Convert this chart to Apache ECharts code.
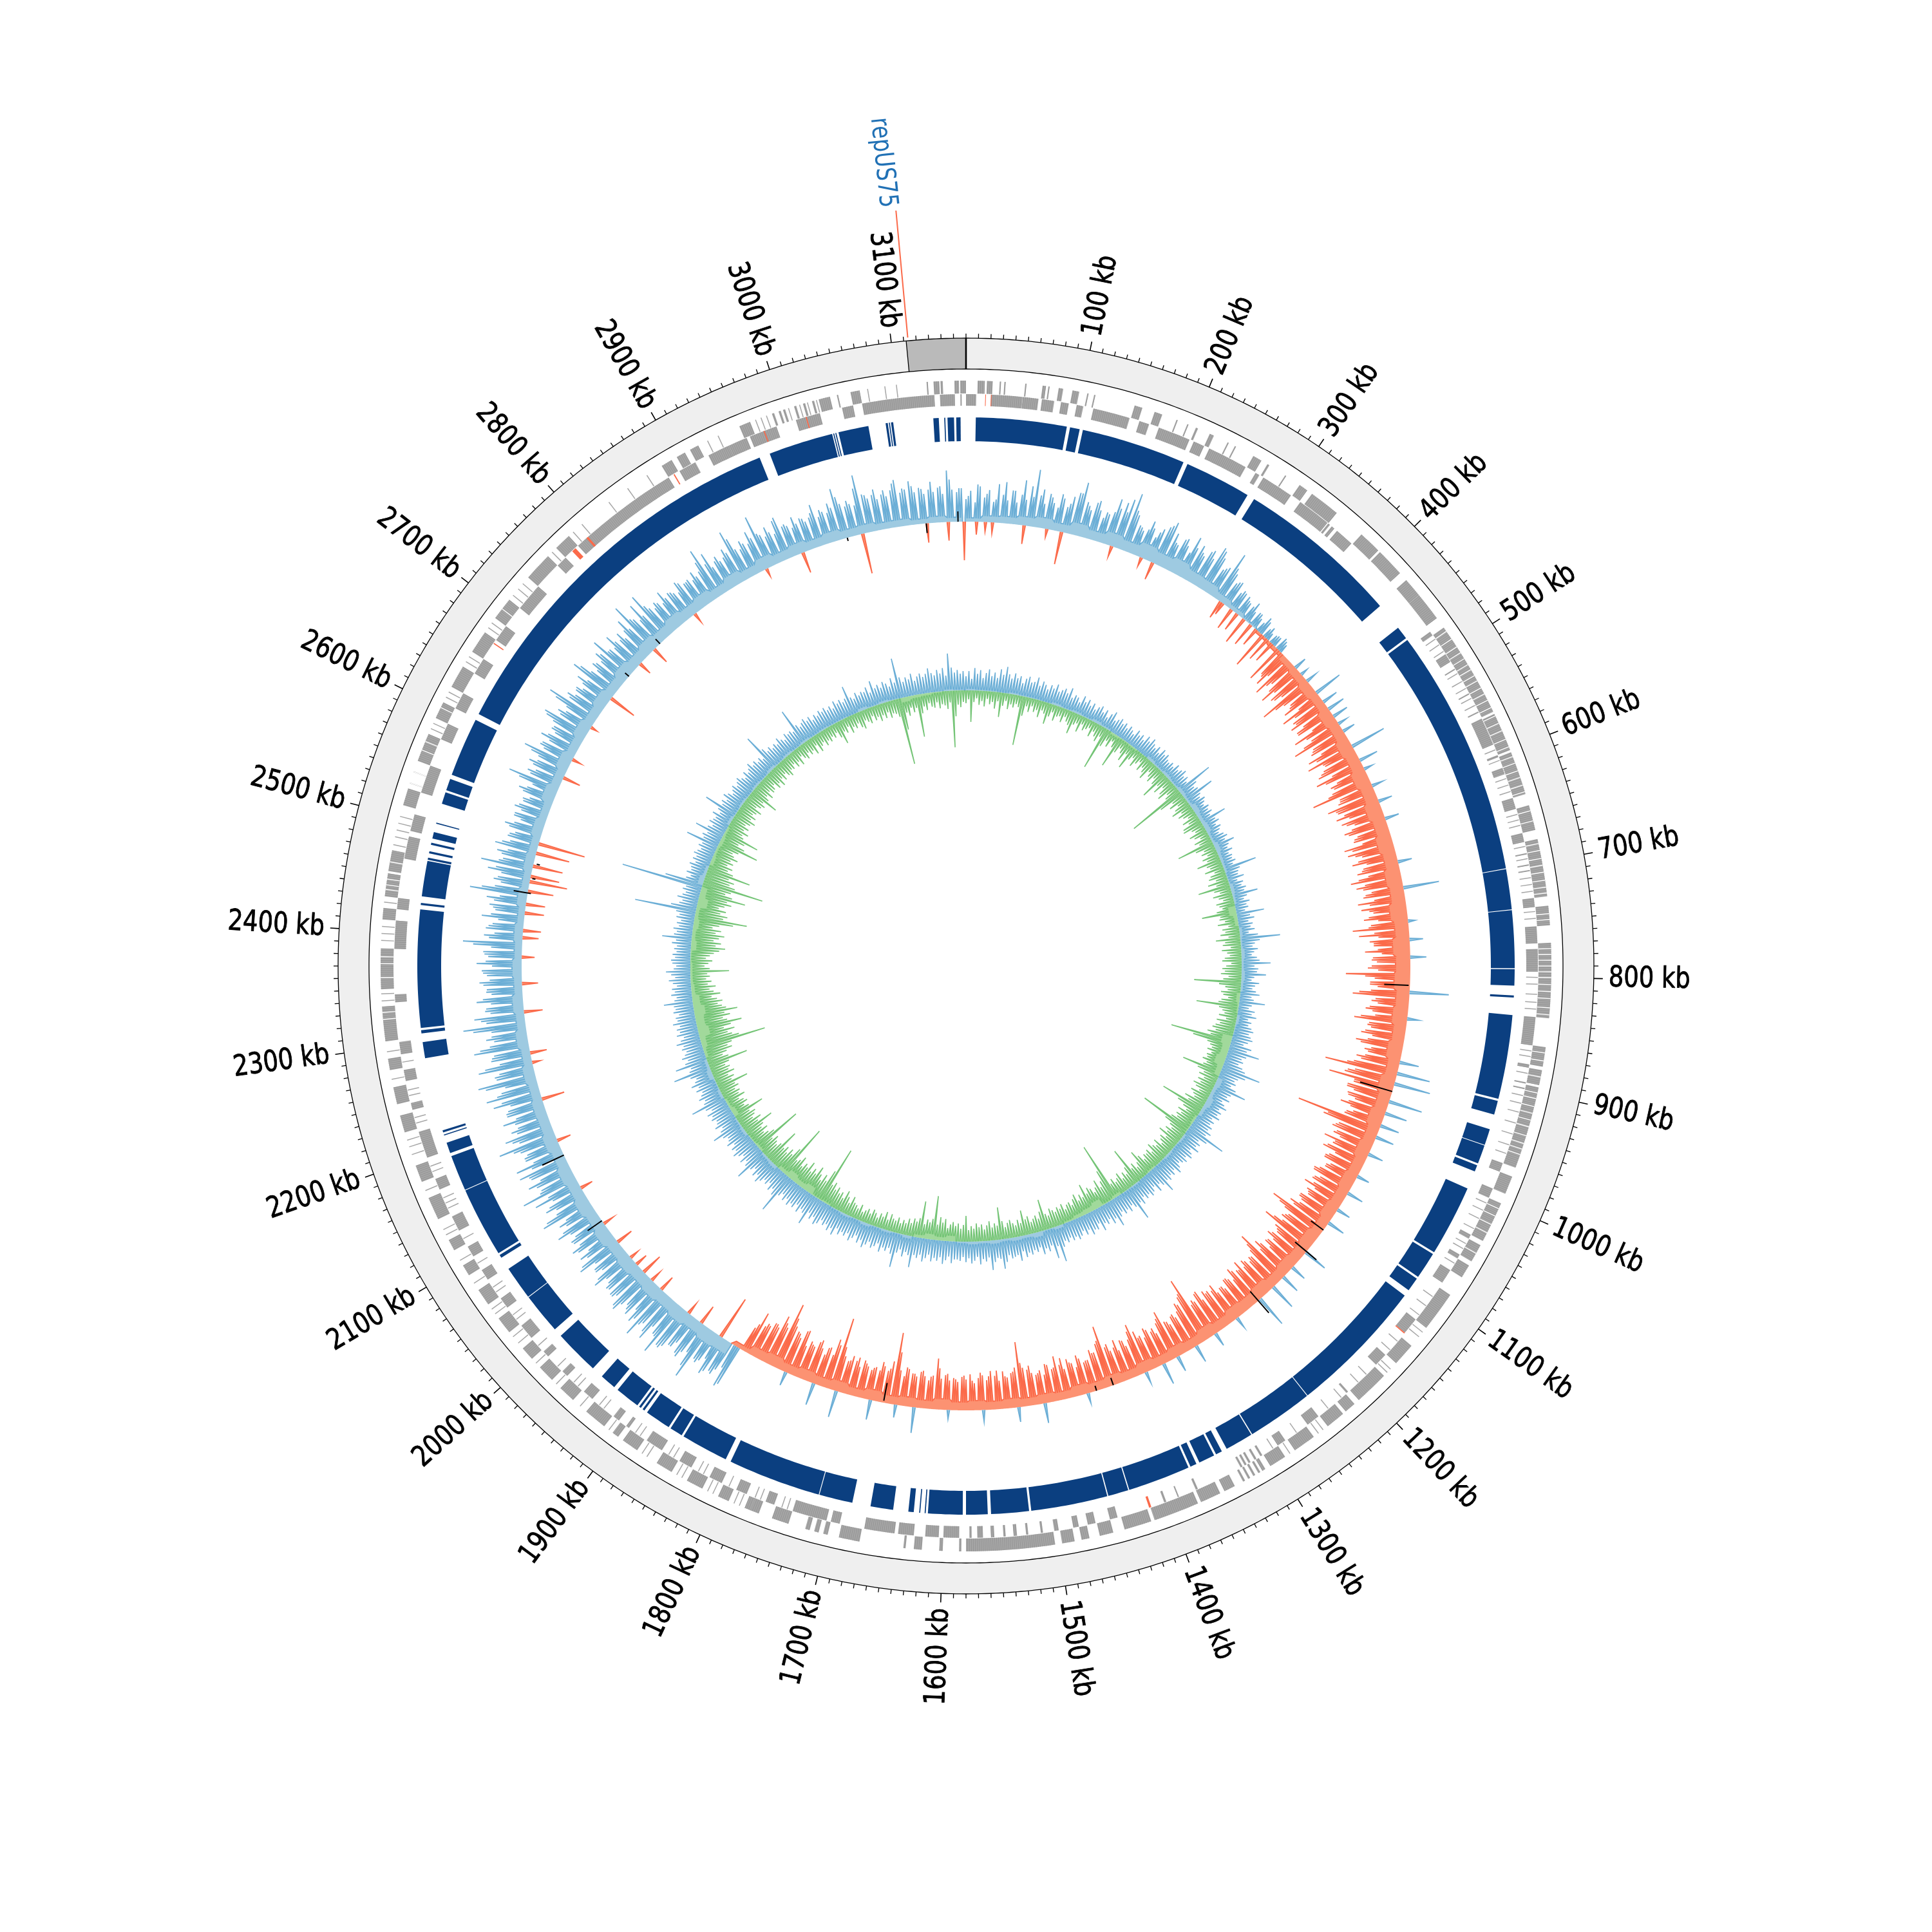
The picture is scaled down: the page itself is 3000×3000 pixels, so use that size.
<!DOCTYPE html>
<html><head><meta charset="utf-8">
<style>html,body{margin:0;padding:0;background:#fff}#c{width:3000px;height:3000px}</style>
<script src="https://cdn.jsdelivr.net/npm/echarts@6/dist/echarts.min.js"></script>
</head><body><div id="c"></div>
<script>
const genomeKb=3160;
const majorTicks=[100,200,300,400,500,600,700,800,900,1000,1100,1200,1300,1400,1500,1600,1700,1800,1900,2000,2100,2200,2300,2400,2500,2600,2700,2800,2900,3000,3100];
const greyBlock=[3112,3160];
const repeatLabel={name:'repUS75',kb:3113.5,textKb:3108};
const contigs=[[9,93],[96,105],[108,205],[209,271],[278,430],[456,468],[470,700],[700.7,738],[738.7,792],[793,808],[817,819],[835,913],[915,928],[942,957],[957.7,975],[977,983],[1000,1066],[1068,1093],[1095,1108],[1114,1242],[1242.7,1304],[1305,1331],[1336,1342],[1344,1359],[1362,1368],[1370,1428],[1429,1448],[1449,1520],[1522,1557],[1560,1580],[1583,1615],[1617,1618],[1622,1623],[1628,1633],[1647,1668],[1685,1716],[1716.7,1803],[1808,1852],[1854,1866],[1868,1892],[1895,1897],[1899,1901],[1903,1926],[1930,1945],[1956,1998],[2006,2044],[2044.7,2076],[2088,2091],[2093,2158],[2158.7,2192],[2195,2205],[2212,2213],[2215,2217],[2285,2300],[2308,2311],[2313,2422],[2426,2428],[2434,2467],[2468,2470],[2474,2476],[2482,2484],[2488,2494],[2502,2503],[2521,2532],[2534,2545],[2549,2604],[2610,2966],[2976,3036],[3037,3038],[3039,3040],[3042,3070],[3086,3088],[3089,3090],[3091,3093],[3130,3135],[3140,3141],[3143,3149],[3151,3155]];
const genesOuter=[[10,16],[18,23],[29,30],[33,34],[51,52],[66,69],[71,72],[80,84],[92,98],[105,106],[111,112],[147,154],[165,172],[185,186],[195,196],[203,205],[216,220],[233,234],[240,241],[258,266],[272,274],[290,291],[305,313],[318,345],[373,393],[395,420],[428,445],[445,470],[480,564],[566,600],[602,640],[650,672],[680,730],[738,755],[770,835],[860,877],[880,893],[895,967],[975,991],[1000,1036],[1040,1056],[1060,1072],[1090,1125],[1145,1165],[1180,1210],[1215,1225],[1228,1245],[1260,1280],[1290,1305],[1310,1313],[1315,1317],[1320,1322],[1325,1327],[1330,1332],[1340,1350],[1354,1372],[1375,1415],[1418,1442],[1452,1464],[1473,1480],[1486,1497],[1503,1580],[1584,1586],[1600,1603],[1618,1625],[1632,1634],[1672,1690],[1700,1704],[1708,1712],[1716,1720],[1735,1750],[1762,1775],[1790,1800],[1815,1830],[1845,1860],[1880,1895],[1900,1906],[1915,1935],[1950,1965],[1975,1990],[2000,2012],[2030,2045],[2060,2075],[2090,2100],[2115,2125],[2145,2165],[2180,2195],[2225,2240],[2250,2265],[2280,2290],[2305,2335],[2350,2385],[2410,2420],[2430,2450],[2452,2470],[2510,2525],[2550,2575],[2590,2605],[2620,2640],[2655,2675],[2690,2710],[2735,2760],[2770,2785],[2885,2895],[2900,2908],[2913,2921],[2960,2970],[2990,2992],[2996,2998],[3000,3002],[3010,3012],[3018,3020],[3026,3028],[3032,3042],[3048,3049],[3060,3068],[3126,3127],[3132,3137],[3138,3140],[3150,3154],[3155,3160]];
const genesInner=[[0,9],[22,50],[50,64],[67,78],[84,91],[98,104],[113,146],[155,164],[173,202],[206,216],[221,257],[267,271],[275,304],[314,344],[345,347],[349,352],[355,372],[476,480],[500,508],[515,516],[540,541],[558,559],[565,590],[600,602],[612,618],[640,650],[672,680],[690,691],[700,701],[705,706],[730,738],[755,770],[775,795],[835,860],[877,880],[893,894],[898,899],[967,975],[991,1000],[1036,1040],[1056,1060],[1072,1085],[1125,1140],[1166,1178],[1212,1214],[1246,1258],[1282,1290],[1306,1308],[1312,1314],[1318,1320],[1322,1324],[1326,1328],[1370,1372],[1388,1389],[1400,1402],[1445,1452],[1465,1472],[1480,1485],[1498,1502],[1512,1514],[1525,1527],[1535,1538],[1545,1547],[1555,1558],[1565,1570],[1575,1577],[1586,1600],[1604,1616],[1626,1640],[1643,1670],[1692,1700],[1704,1735],[1752,1760],[1778,1788],[1802,1814],[1832,1844],[1862,1878],[1897,1900],[1908,1914],[1938,1948],[1968,1974],[1992,1998],[2014,2028],[2048,2058],[2078,2088],[2102,2112],[2128,2142],[2168,2178],[2198,2222],[2242,2248],[2268,2278],[2292,2303],[2338,2345],[2385,2410],[2420,2430],[2465,2485],[2490,2505],[2525,2550],[2575,2590],[2605,2620],[2640,2655],[2675,2690],[2710,2735],[2760,2770],[2785,2885],[2896,2912],[2925,2945],[2945,2962],[2965,2990],[3008,3030],[3050,3060],[3068,3132],[3137,3150],[3155,3156]];
const genesThinOuter=[1770,1780,1785,1805,1810,1835,1840,1870,1875,1910,1942,1970,1995,2018,2025,2050,2055,2082,2105,2130,2135,2172,2205,2212,2218,2272,2296,2340,2346,2392,2398,2404,2425,2475,2482,2488,2494,2500,2530,2540,2580,2585,2610,2615,2645,2650,2680,2685,2715,2722,2728,2765,2790,2800,2830,2850,2870,2930,2940,2975,2980,2985,3005,3015,3022,3030,3075,3090,3100,1130,1135,1172,1176,1250,1255,1285];
const genesThinInner=[484,490,497,520,528,535,545,552,595,605,622,628,634,655,660,665,684,695,712,718,724,742,748,800,806,815,822,828,865,870,885,905,912,920,930,940,950,958,1005,1012,1020,1030,1045,1050,1065,1100,1110,1120,1150,1160,1190,1200,1220,1235,1270,1295,1740,1745,1765,1770,1795,1820,1825,1850,1855,1885,1890,1925,1930,1955,1960,1980,2005,2035,2040,2065,2070,2095,2120,2150,2155,2160,2185,2190,2230,2235,2255,2260,2285];
const genesRedInner=[[17,17.6],[22,22.6],[1140,1141],[1414,1416],[2671,2672],[2778,2782],[2795,2797],[2890,2891],[2978,2979],[3017,3018]];
const geneWhiteStripes=[484,492,500,506,512,518,523,529,534,541,547,553,560,568,575,582,590,597,606,612,619,625,632,638,655,664,684,690,697,703,709,716,722,727,745,750,775,780,785,790,795,800,806,812,818,826,832,845,865,872,886,900,905,912,918,924,930,938,945,950,955,1005,1012,1020,1028,1048,2324,2330,2360,2372,2378,2395,2436,2440,2445,2460,2530,2540,2560,2568,2600,2700];
const skewMain=[
35,48,30,55,38,50,32,60,44,36,52,34,47,40,62,89,50,38,55,42,
36,52,40,58,66,84,55,44,58,48,38,46,52,60,72,80,92,60,46,40,
45,50,38,55,62,73,58,42,55,48,40,52,60,46,58,50,74,60,44,52,
81,50,38,44,30,34,33,26,25,20,24,18,16,23,15,12,14,16,21,14,
-48,-40,-70,-44,-55,-50,-62,-46,-87,-52,-44,-60,-38,-50,-58,-66,-48,-62,-40,-55,
-50,-84,-55,-62,-48,-60,-78,-52,-58,-70,-50,-64,-48,-56,-62,-97,-55,-60,-80,-66,
-58,-52,-67,-48,-55,-62,-50,-58,-46,-64,-73,-52,-60,-48,-55,-66,-50,-79,-58,-62,
-50,-64,-48,-56,-70,-52,-60,-46,-58,-87,-54,-48,-62,-56,-50,-44,-58,-52,-60,-50,
-100,-55,-62,-50,-60,-88,-52,-48,-60,-55,-50,-82,-58,-54,-62,-50,-56,-66,-48,-52,
-55,-60,-70,-114,-65,-80,-103,-62,-70,-58,-66,-52,-60,-55,-48,-60,-134,-90,-62,-70,
-60,-52,-75,-58,-64,-48,-55,-60,-46,-52,-58,-65,-50,-60,-54,-48,-58,-52,-62,-56,
-55,-62,-96,-70,-58,-66,-60,-88,-64,-55,-60,-52,-58,-48,-62,-56,-90,-66,-58,-54,
-60,-54,-69,-58,-62,-50,-56,-60,-48,-54,-50,-58,-62,-66,-55,-70,-60,-58,-106,-80,
-70,-62,-55,-60,-50,-58,-78,-62,-48,-54,-60,-50,-56,-66,-80,-58,-50,-62,-48,-55,
-52,-60,-96,-70,-58,-64,-50,-48,-56,-44,-52,-60,-46,-54,-69,-50,-58,-44,-52,-46,
-50,-56,-60,-101,-62,-54,-48,-58,-44,-52,-60,-46,-54,-50,-42,-56,-48,-52,-44,-50,
-46,-54,-48,-79,-52,-44,-50,-56,-48,-52,-58,-46,-54,-112,-66,-50,-56,-48,-52,-46,
-50,-58,-46,-54,-60,-50,-56,-115,-70,-52,-62,-48,-56,-64,-54,-60,-50,-72,-58,-66,
-72,-106,-64,-80,-58,-62,-54,-50,-69,-40,65,40,48,55,60,42,50,52,89,50,
55,62,48,58,66,70,88,60,52,68,58,86,62,50,66,54,60,70,56,62,
58,52,50,61,46,55,48,68,52,44,58,50,56,48,52,61,50,46,82,54,
50,58,48,52,91,56,60,50,62,78,54,48,58,52,60,92,56,76,54,50,
52,48,60,56,50,62,84,58,50,91,60,54,85,50,62,56,86,60,52,55,
54,97,60,78,52,58,50,62,48,55,60,50,54,62,46,56,52,60,48,92,
52,44,58,48,40,52,46,56,50,42,90,52,44,50,46,56,81,48,52,44,
66,44,50,40,52,46,38,50,42,48,44,36,50,46,40,82,50,44,52,48,
50,77,48,54,46,52,44,50,56,75,52,46,50,85,54,48,52,44,50,46,
78,50,44,52,48,56,75,50,46,52,48,44,54,50,87,56,48,50,82,52,
46,50,44,48,52,46,42,54,48,50,44,46,50,83,54,44,50,46,48,52,
84,50,46,52,48,54,86,52,46,50,44,68,50,48,42,46,52,44,48,66,
44,50,46,52,80,54,48,50,46,92,60,52,56,48,54,50,58,73,52,56,
68,50,56,46,52,48,54,44,80,50,46,52];
const skewMid=[
40,58,44,36,64,52,70,46,60,50,
58,46,66,50,62,48,74,58,66,44,
60,48,66,44,58,68,50,62,70,48,
58,42,36,28,34,24,28,20,16,18,
-60,-52,-72,-58,-66,-48,-70,-55,-62,-74,
-66,-58,-72,-54,-64,-78,-60,-70,-56,-68,
-72,-60,-68,-56,-76,-62,-70,-58,-66,-72,
-60,-74,-58,-68,-62,-78,-56,-70,-60,-66,
-70,-62,-78,-58,-66,-72,-60,-68,-74,-58,
-68,-80,-76,-62,-70,-64,-72,-58,-84,-66,
-64,-56,-70,-60,-52,-66,-58,-68,-54,-62,
-70,-82,-62,-74,-58,-66,-60,-70,-76,-60,
-64,-56,-68,-60,-54,-66,-60,-72,-64,-84,
-74,-62,-56,-68,-58,-64,-54,-70,-60,-66,
-64,-74,-58,-50,-62,-54,-64,-52,-60,-48,
-62,-68,-56,-50,-60,-52,-58,-46,-54,-48,
-56,-64,-50,-58,-52,-60,-82,-54,-62,-50,
-54,-60,-52,-70,-78,-60,-68,-56,-74,-64,
-84,-70,-62,-56,-48,70,58,66,56,72,
66,58,72,62,78,64,70,60,74,62,
60,70,56,74,62,66,58,72,60,74,
66,76,60,72,64,78,58,70,66,62,
70,60,76,66,80,62,74,60,76,64,
82,68,60,72,56,66,60,70,58,76,
60,54,66,50,62,72,56,68,54,60,
56,48,60,50,54,46,58,64,56,60,
64,56,62,52,70,58,72,60,54,62,
68,56,62,50,66,58,70,60,74,60,
54,62,50,58,48,56,64,70,56,60,
70,58,66,56,60,64,52,58,50,54,
54,60,66,56,72,58,64,60,68,58,
60,54,64,56,66,52];
const skewFloor=[6,10,11,14,17,13,20,15,21,17,24,20,24,18,17,11,7,3,-4,-6,-10,-13,-17,-14,-20,-17,-22,-19,-24,-20,-25,-21,-25,-21,-25,-22,-27,-22,-27,-23,-25,-21,-24,-20,-24,-19,-24,-20,-24,-19,-22,-18,-21,-18,-21,-17,-21,-18,-20,-17,-21,-18,-20,-16,-20,-15,-18,-15,-18,-14,-17,-14,-17,-13,-15,-13,-15,-13,-15,-13,-17,-13,-15,-13,-17,-13,-17,-14,-17,-14,-18,-15,-7,20,22,18,22,18,21,18,21,18,22,18,22,18,21,17,21,17,18,15,18,14,18,14,17,13,15,12,14,11,15,12,15,13,17,13,20,15,20,15,20,16,20,16,21,17,21,17,21,17,20,15,20,15,20,15,18,14,17,13,14,11,11,8,10,7];
const skewCounter=[[12,-20],[22,-15],[30,-17],[66,-29],[92,-13],[109,-51],[168,-17],[204,-14],[218,-28],[307,-29],[310,-20],[322,-35],[330,-30],[340,-44],[350,-38],[358,-30],[368,-60],[375,-40],[382,-35],[392,-61],[398,-45],[420,20],[430,12],[440,18],[457,45],[470,25],[480,28],[490,25],[500,15],[510,20],[530,56],[548,30],[559,14],[580,18],[599,22],[620,22],[671,22],[701,56],[739,11],[760,21],[780,25],[820,61],[850,18],[900,30],[913,52],[925,57],[946,53],[960,35],[975,30],[989,29],[1010,24],[1038,20],[1060,26],[1082,22],[1100,28],[1142,38],[1165,25],[1180,30],[1196,42],[1216,51],[1250,18],[1280,22],[1306,28],[1330,25],[1348,34],[1370,18],[1440,16],[1490,31],[1520,23],[1560,18],[1600,14],[1639,40],[1660,20],[1689,31],[1729,42],[1756,35],[1790,22],[1874,-69],[1901,-31],[1919,-19],[1960,-25],[1975,-18],[1988,-34],[2000,-20],[2010,-15],[2033,-27],[2059,-18],[2107,-20],[2167,-22],[2217,-36],[2260,-13],[2271,-26],[2318,-29],[2350,-25],[2380,-20],[2402,-25],[2410,-28],[2430,-30],[2440,-30],[2455,-40],[2466,-59],[2472,-45],[2484,-47],[2499,-53],[2510,-74],[2590,-28],[2613,-15],[2655,-11],[2695,-44],[2746,-21],[2769,-27],[2830,-16],[2926,-13],[2971,-33],[3042,-63],[3116,-30],[3140,-29],[3158,-60]];
const skewBlack=[[812,-40,-2],[934,-52,0],[1110,-24,0],[1141,-23,20],[1219,-19,25],[1410,-12,0],[1430,-8,0],[1674,-31,-3],[2063,0,27],[2149,0,37],[2453,-5,22],[2470,-8,-3],[2487,-10,-5],[2727,0,8],[2778,0,10],[3024,-5,0],[3115,-15,0],[3151,0,16]];
const gcUp=[
22,30,18,35,26,32,20,28,34,24,30,22,36,28,41,30,24,33,26,30,
20,28,32,24,26,34,22,30,26,20,28,24,32,22,26,30,24,34,20,26,
24,18,30,22,28,20,26,18,24,28,20,26,16,24,30,18,22,26,20,24,
18,24,20,16,26,20,24,18,28,22,30,24,20,26,18,28,22,26,20,18,
22,18,26,20,24,28,20,24,18,59,30,22,26,49,24,20,26,22,18,24,
20,24,18,42,22,26,18,24,20,16,22,26,20,33,22,18,24,16,20,18,
22,16,52,24,20,18,26,14,22,18,24,20,40,22,16,24,18,20,14,43,
20,26,16,22,18,24,14,28,62,30,22,18,26,20,16,24,28,45,20,26,
24,38,20,16,28,22,18,24,30,18,22,40,20,16,26,22,30,18,24,20,
26,30,24,28,32,26,20,34,28,49,30,24,28,22,30,36,62,40,30,26,
30,24,34,52,30,26,32,22,28,34,24,30,26,32,22,28,24,30,26,34,
28,63,36,24,30,26,34,22,28,32,24,30,26,22,28,34,24,30,26,32,
28,45,30,24,34,22,28,32,26,30,24,34,28,54,30,24,32,26,30,24,
30,43,28,34,24,30,26,36,22,30,28,34,24,30,22,28,32,26,30,24,
30,26,34,56,30,48,26,34,28,36,24,30,26,32,28,34,24,38,28,30,
32,26,36,46,30,28,34,46,26,32,28,36,24,30,34,26,32,24,30,28,
28,34,24,30,36,26,32,28,34,24,30,36,26,32,28,48,30,26,34,24,
30,54,34,26,32,28,36,24,30,34,26,32,38,28,34,24,30,36,26,32,
28,34,26,39,30,36,28,32,26,34,38,28,34,26,48,32,28,36,26,34,
30,36,28,34,26,32,64,38,30,36,26,32,28,34,40,30,36,26,32,53,
34,28,36,26,32,38,30,34,26,36,30,28,34,48,32,26,36,30,28,34,
30,36,26,34,55,32,28,36,30,26,34,28,38,30,26,34,59,32,28,51,
34,28,36,30,26,32,28,38,30,24,34,28,32,26,36,28,30,24,32,28,
30,45,28,24,32,26,30,22,28,34,24,30,38,26,22,28,30,24,28,22,
26,22,30,24,46,28,24,30,22,26,20,28,24,30,96,40,28,24,33,26,
22,28,24,128,60,28,22,30,24,26,30,22,28,24,30,26,22,28,24,52,
26,30,24,46,28,22,30,26,24,32,22,28,53,26,30,24,33,28,22,26,
30,24,28,32,26,22,30,24,28,34,26,30,24,28,22,61,34,26,30,24,
28,24,32,26,22,30,26,28,24,59,30,24,28,32,26,30,22,28,24,30,
26,30,24,28,22,32,26,30,24,28,46,26,22,30,24,28,26,32,22,39,
26,30,24,32,28,22,34,26,63,32,24,30,26,34,22,28,32,26,30,38,
30,26,34,28,36,24,58,36,28,32,26,30];
const gcDown=[
-20,-14,-49,-18,-12,-22,-16,-24,-12,-20,-16,-26,-14,-38,-20,-12,-24,-16,-20,-14,
-18,-77,-30,-14,-22,-12,-20,-16,-26,-14,-18,-33,-20,-12,-24,-16,-14,-22,-12,-18,
-22,-34,-18,-14,-26,-12,-20,-16,-12,-24,-14,-20,-26,-16,-68,-28,-16,-24,-12,-20,
-51,-24,-14,-20,-30,-16,-38,-20,-14,-26,-18,-12,-24,-16,-22,-30,-14,-20,-26,-16,
-24,-45,-20,-30,-16,-26,-32,-18,-24,-91,-40,-20,-28,-16,-24,-32,-18,-26,-20,-14,
-26,-18,-30,-32,-20,-16,-28,-22,-14,-26,-20,-58,-30,-18,-24,-16,-26,-20,-38,-24,
-20,-30,-16,-24,-28,-18,-32,-20,-50,-26,-18,-30,-22,-16,-28,-24,-20,-30,-54,-26,
-28,-20,-32,-16,-26,-22,-30,-18,-38,-24,-28,-16,-30,-22,-18,-26,-30,-16,-24,-30,
-26,-32,-20,-28,-73,-34,-24,-20,-30,-26,-18,-28,-32,-66,-30,-24,-20,-28,-16,-30,
-24,-30,-34,-28,-40,-34,-96,-60,-36,-30,-26,-32,-24,-30,-28,-34,-26,-30,-62,-36,
-24,-30,-20,-28,-22,-32,-26,-18,-30,-24,-20,-34,-26,-69,-40,-28,-20,-32,-24,-30,
-26,-34,-83,-40,-28,-22,-30,-24,-36,-20,-28,-24,-18,-30,-22,-26,-32,-20,-28,-24,
-26,-20,-30,-41,-24,-18,-28,-22,-59,-30,-20,-26,-18,-30,-24,-20,-28,-22,-92,-50,
-34,-26,-40,-30,-24,-32,-36,-28,-45,-26,-32,-24,-36,-30,-22,-28,-26,-20,-30,-24,
-28,-22,-26,-30,-20,-24,-48,-30,-20,-26,-22,-18,-28,-24,-39,-20,-26,-18,-22,-28,
-24,-18,-28,-50,-22,-26,-20,-30,-24,-18,-26,-22,-28,-20,-24,-18,-40,-26,-20,-28,
-24,-30,-26,-20,-34,-28,-36,-24,-68,-32,-26,-30,-22,-57,-30,-24,-28,-20,-26,-18,
-22,-16,-24,-18,-20,-26,-16,-27,-18,-22,-14,-20,-24,-16,-22,-18,-14,-24,-16,-20,
-22,-30,-18,-26,-34,-20,-28,-24,-32,-26,-36,-30,-90,-50,-30,-38,-26,-34,-44,-30,
-36,-28,-42,-30,-34,-26,-40,-32,-28,-85,-44,-30,-36,-26,-34,-28,-56,-30,-24,-28,
-34,-26,-78,-36,-28,-22,-32,-24,-30,-49,-26,-34,-22,-28,-32,-24,-50,-28,-22,-30,
-26,-20,-32,-24,-28,-22,-30,-26,-49,-24,-30,-22,-34,-26,-30,-24,-32,-63,-34,-26,
-34,-44,-38,-46,-101,-60,-50,-44,-56,-40,-52,-70,-48,-42,-54,-46,-67,-50,-44,-38,
-46,-38,-30,-44,-34,-28,-38,-26,-32,-24,-30,-26,-60,-30,-22,-28,-34,-24,-30,-36,
-44,-53,-38,-46,-34,-42,-50,-36,-44,-30,-40,-61,-82,-44,-50,-38,-46,-34,-42,-52,
-44,-72,-50,-38,-46,-96,-50,-40,-46,-36,-69,-40,-30,-36,-26,-34,-28,-38,-30,-26,
-34,-64,-40,-28,-36,-57,-30,-26,-34,-24,-30,-22,-28,-34,-24,-30,-22,-26,-32,-20,
-26,-30,-24,-46,-28,-22,-30,-20,-26,-24,-18,-28,-22,-30,-20,-26,-18,-24,-28,-20,
-22,-16,-24,-18,-26,-14,-20,-24,-16,-22,-18,-26,-14,-27,-20,-16,-24,-18,-22,-16,
-20,-14,-24,-36,-18,-22,-14,-26,-18,-22,-16,-24,-28,-16,-20,-24,-14,-22,-18,-26,
-18,-24,-16,-26,-20,-22,-28,-104,-50,-24,-30,-18,-26,-20,-66,-30,-20,-26,-16,-22,
-24,-16,-26,-20,-22,-28,-18,-88,-40,-22,-26,-18];
const gcFloor=[3,2,2,1,3,2,2,1,4,2,4,2,5,3,-4,-2,-3,-1,5,3,5,3,6,4,9,6,8,4,8,5,4,2,6,4,-12,-6,5,3,6,4,6,4,-6,-3,5,2,-16,-12,-16,-9,9,6,10,6,-4,-2,4,2,4,2,-3,-1,3,2,-5,-2,-12,-8,-6,-3,5,2,8,5,6,4,6,4,5,3,-9,-6,-9,-5,5,2,4,2,5,2,4,2,-3,-2,-12,-8,-12,-6,6,4,-4,-2,5,3,-8,-4,5,2,8,5,-5,-9,-18,-14,-18,-12,-6,-4,-4,-2,-9,-6,-9,-6,-16,-10,9,5,-6,-4,-6,-4,5,2,4,2,4,2,5,2,4,2,4,2,3,2,2,1,5,2,4,2,-8,-5,-4,-2,3,2];

const R={tickMajor:989,tickMinor:982,ringOut:975,ringIn:927,g1:909,g2:888,g3:870,c1:852,c0:815,skew:690,gc:428,label:998};
const C={blue:'#6baed6',blueF:'#9ecae1',red:'#fb6a4a',redF:'#fc9272',green:'#74c476',greenF:'#a1d99b',navy:'#0b3f80',gene:'#a6a6a6',geneLine:'#939393'};
const FLOORSTEP=20;

// merge spike arrays into a kb-sorted list of [kb,value]
const atStep=(vals,step,off)=>vals.map((v,i)=>[i*step+off,v]);
const skewPoints=atStep(skewMain,5,0).concat(atStep(skewMid,10,2.5)).sort((a,b)=>a[0]-b[0]);
function sidePaths(list,floors,sign,hw){
  const runs=[];let cur=null;
  list.forEach(pt=>{
    const k=pt[0],v=pt[1]*sign,valley=Math.max((floors[Math.floor(k/FLOORSTEP)]||0)*sign,0),peak=Math.max(v,valley);
    if(peak>0){
      if(!cur)cur=[[k-hw,0]];
      cur.push([k-hw,valley*sign],[k,peak*sign],[k+hw,valley*sign]);
      if(!(valley>0)){cur.push([k+hw,0]);runs.push(cur);cur=null;}
    }else if(cur){cur.push([k,0]);runs.push(cur);cur=null;}
  });
  if(cur){const last=list[list.length-1][0];cur.push([last+hw,0]);runs.push(cur);}
  return runs;
}
const layer=(items,draw)=>({type:'custom',coordinateSystem:'polar',clip:false,silent:true,animation:false,progressive:0,data:items.map(()=>[0,0]),renderItem:(p,api)=>draw(items[p.dataIndex],api)});
const arc=(api,a0,a1,r0,r1)=>{
  const n=Math.max(1,Math.ceil((a1-a0)/4)),pts=[];
  for(let i=0;i<=n;i++)pts.push(api.coord([r1,a0+(a1-a0)*i/n]).slice(0,2));
  for(let i=n;i>=0;i--)pts.push(api.coord([r0,a0+(a1-a0)*i/n]).slice(0,2));
  return pts;
};
const band=(a0,a1,r0,r1,fill,api)=>({type:'polygon',shape:{points:arc(api,a0,a1,r0,r1)},style:{fill:fill,stroke:null}});
const ringLine=(r,a0,a1,api,lw)=>{const pts=[];const n=Math.ceil((a1-a0)/4);for(let i=0;i<=n;i++)pts.push(api.coord([r,a0+(a1-a0)*i/n]).slice(0,2));return{type:'polyline',shape:{points:pts},style:{stroke:'#000',lineWidth:lw,fill:null}};};
const radial=(kb,r0,r1,color,lw,api)=>({type:'line',shape:{x1:api.coord([r0,kb])[0],y1:api.coord([r0,kb])[1],x2:api.coord([r1,kb])[0],y2:api.coord([r1,kb])[1]},style:{stroke:color,lineWidth:lw}});
const geneBlock=(g,r0,r1,api)=>{
  const children=[band(g[0],g[1],r0,r1,C.gene,api)];
  for(let k=g[0]+0.9;k<g[1];k+=1.7)children.push(radial(k,r0,r1,C.geneLine,0.9,api));
  return{type:'group',children:children};
};
function drawRun(base,lineColor,fillColor,lw){return (run,api)=>{
  const top=run.map(p=>api.coord([base+p[1],p[0]]).slice(0,2));
  const bottom=run.slice().reverse().map(p=>api.coord([base,p[0]]).slice(0,2));
  return{type:'group',children:[
    {type:'polygon',shape:{points:top.concat(bottom)},style:{fill:fillColor,stroke:null}},
    {type:'polyline',shape:{points:top},style:{stroke:lineColor,lineWidth:lw,fill:null,lineJoin:'miter',miterLimit:3}}
  ]};
};}
const spike=(base,posLine,posFill,negLine,negFill)=>(s,api)=>{
  const pts=[[s[0]-1.4,0],[s[0],s[1]],[s[0]+1.4,0]].map(p=>api.coord([base+p[1],p[0]]).slice(0,2));
  const up=s[1]>0;
  return{type:'group',children:[
    {type:'polygon',shape:{points:pts},style:{fill:up?posFill:negFill,stroke:null}},
    {type:'polyline',shape:{points:pts},style:{stroke:up?posLine:negLine,lineWidth:1.8,fill:null}}
  ]};
};
const labelText=(text,kb,r,color,size,sx,sw,api)=>{
  const theta=kb/genomeKb*360,right=theta<180,c=api.coord([r,kb]);
  const deg=right?90-theta:270-theta;
  return{type:'text',x:c[0],y:c[1],rotation:deg*Math.PI/180,scaleX:sx,style:{text:text,fill:color,stroke:color,lineWidth:sw,fontSize:size,fontFamily:'DejaVu Sans',textAlign:right?'left':'right',textVerticalAlign:'middle'}};
};
const minorTicks=[];for(let k=10;k<genomeKb;k+=10)if(k%100!==0)minorTicks.push(k);minorTicks.push(0);

const series=[
 layer([1],(d,api)=>({type:'group',children:[
   band(0,genomeKb,R.ringIn,R.ringOut,'#efefef',api),
   band(greyBlock[0],greyBlock[1],R.ringIn,R.ringOut,'#bababa',api),
   ringLine(R.ringOut,0,genomeKb,api,1.3),ringLine(R.ringIn,0,genomeKb,api,1.3),
   radial(greyBlock[0],R.ringIn,R.ringOut,'#000',1.3,api),
   radial(0,R.ringIn,R.ringOut,'#000',2.6,api),
   radial(repeatLabel.kb,R.tickMajor-9,1178,C.red,2,api)
 ]})),
 layer(minorTicks,(k,api)=>radial(k,R.ringOut,R.tickMinor,'#000',1.3,api)),
 layer(majorTicks,(k,api)=>radial(k,R.ringOut,R.tickMajor,'#000',1.6,api)),
 layer(majorTicks,(k,api)=>labelText(k+' kb',k,R.label,'#000',45,0.82,0.9,api)),
 layer([repeatLabel],(d,api)=>labelText(d.name,d.textKb,1184,'#2171b5',41,0.8,0,api)),
 layer(genesOuter,(g,api)=>geneBlock(g,R.g2+1,R.g1,api)),
 layer(genesInner,(g,api)=>geneBlock(g,R.g3,R.g2,api)),
 layer(genesThinOuter,(k,api)=>radial(k,R.g2+1,R.g1,C.gene,1.5,api)),
 layer(genesThinInner,(k,api)=>radial(k,R.g3,R.g2,C.gene,1.5,api)),
 layer(genesRedInner,(g,api)=>band(g[0],g[1],R.g3,R.g2,C.red,api)),
 layer(geneWhiteStripes,(k,api)=>radial(k,R.g2+1,R.g1,'#fff',1.4,api)),
 layer(contigs,(g,api)=>band(g[0],g[1],R.c0,R.c1,C.navy,api)),
 layer(sidePaths(skewPoints,skewFloor,1,1.1),drawRun(R.skew,C.blue,C.blueF,1.8)),
 layer(sidePaths(skewPoints,skewFloor,-1,1.1),drawRun(R.skew,C.red,C.redF,1.8)),
 layer(skewCounter,spike(R.skew,C.blue,C.blueF,C.red,C.redF)),
 layer(skewBlack,(b,api)=>radial(b[0],R.skew+b[1],R.skew+b[2],'#000',2,api)),
 layer(sidePaths(atStep(gcUp,5,0),gcFloor,1,1.7),drawRun(R.gc,C.blue,C.blueF,1.6)),
 layer(sidePaths(atStep(gcDown,5,0),gcFloor,-1,1.7),drawRun(R.gc,C.green,C.greenF,1.6))
];
const chart=echarts.init(document.getElementById('c'),null,{renderer:'canvas'});
chart.setOption({
  animation:false,backgroundColor:'#fff',
  polar:{center:[1500,1500],radius:[0,R.ringOut]},
  angleAxis:{type:'value',min:0,max:genomeKb,startAngle:90,clockwise:true,axisLine:{show:false},axisTick:{show:false},axisLabel:{show:false},splitLine:{show:false}},
  radiusAxis:{type:'value',min:0,max:R.ringOut,show:false,axisLine:{show:false},axisTick:{show:false},axisLabel:{show:false},splitLine:{show:false}},
  series:series
});
</script></body></html>
